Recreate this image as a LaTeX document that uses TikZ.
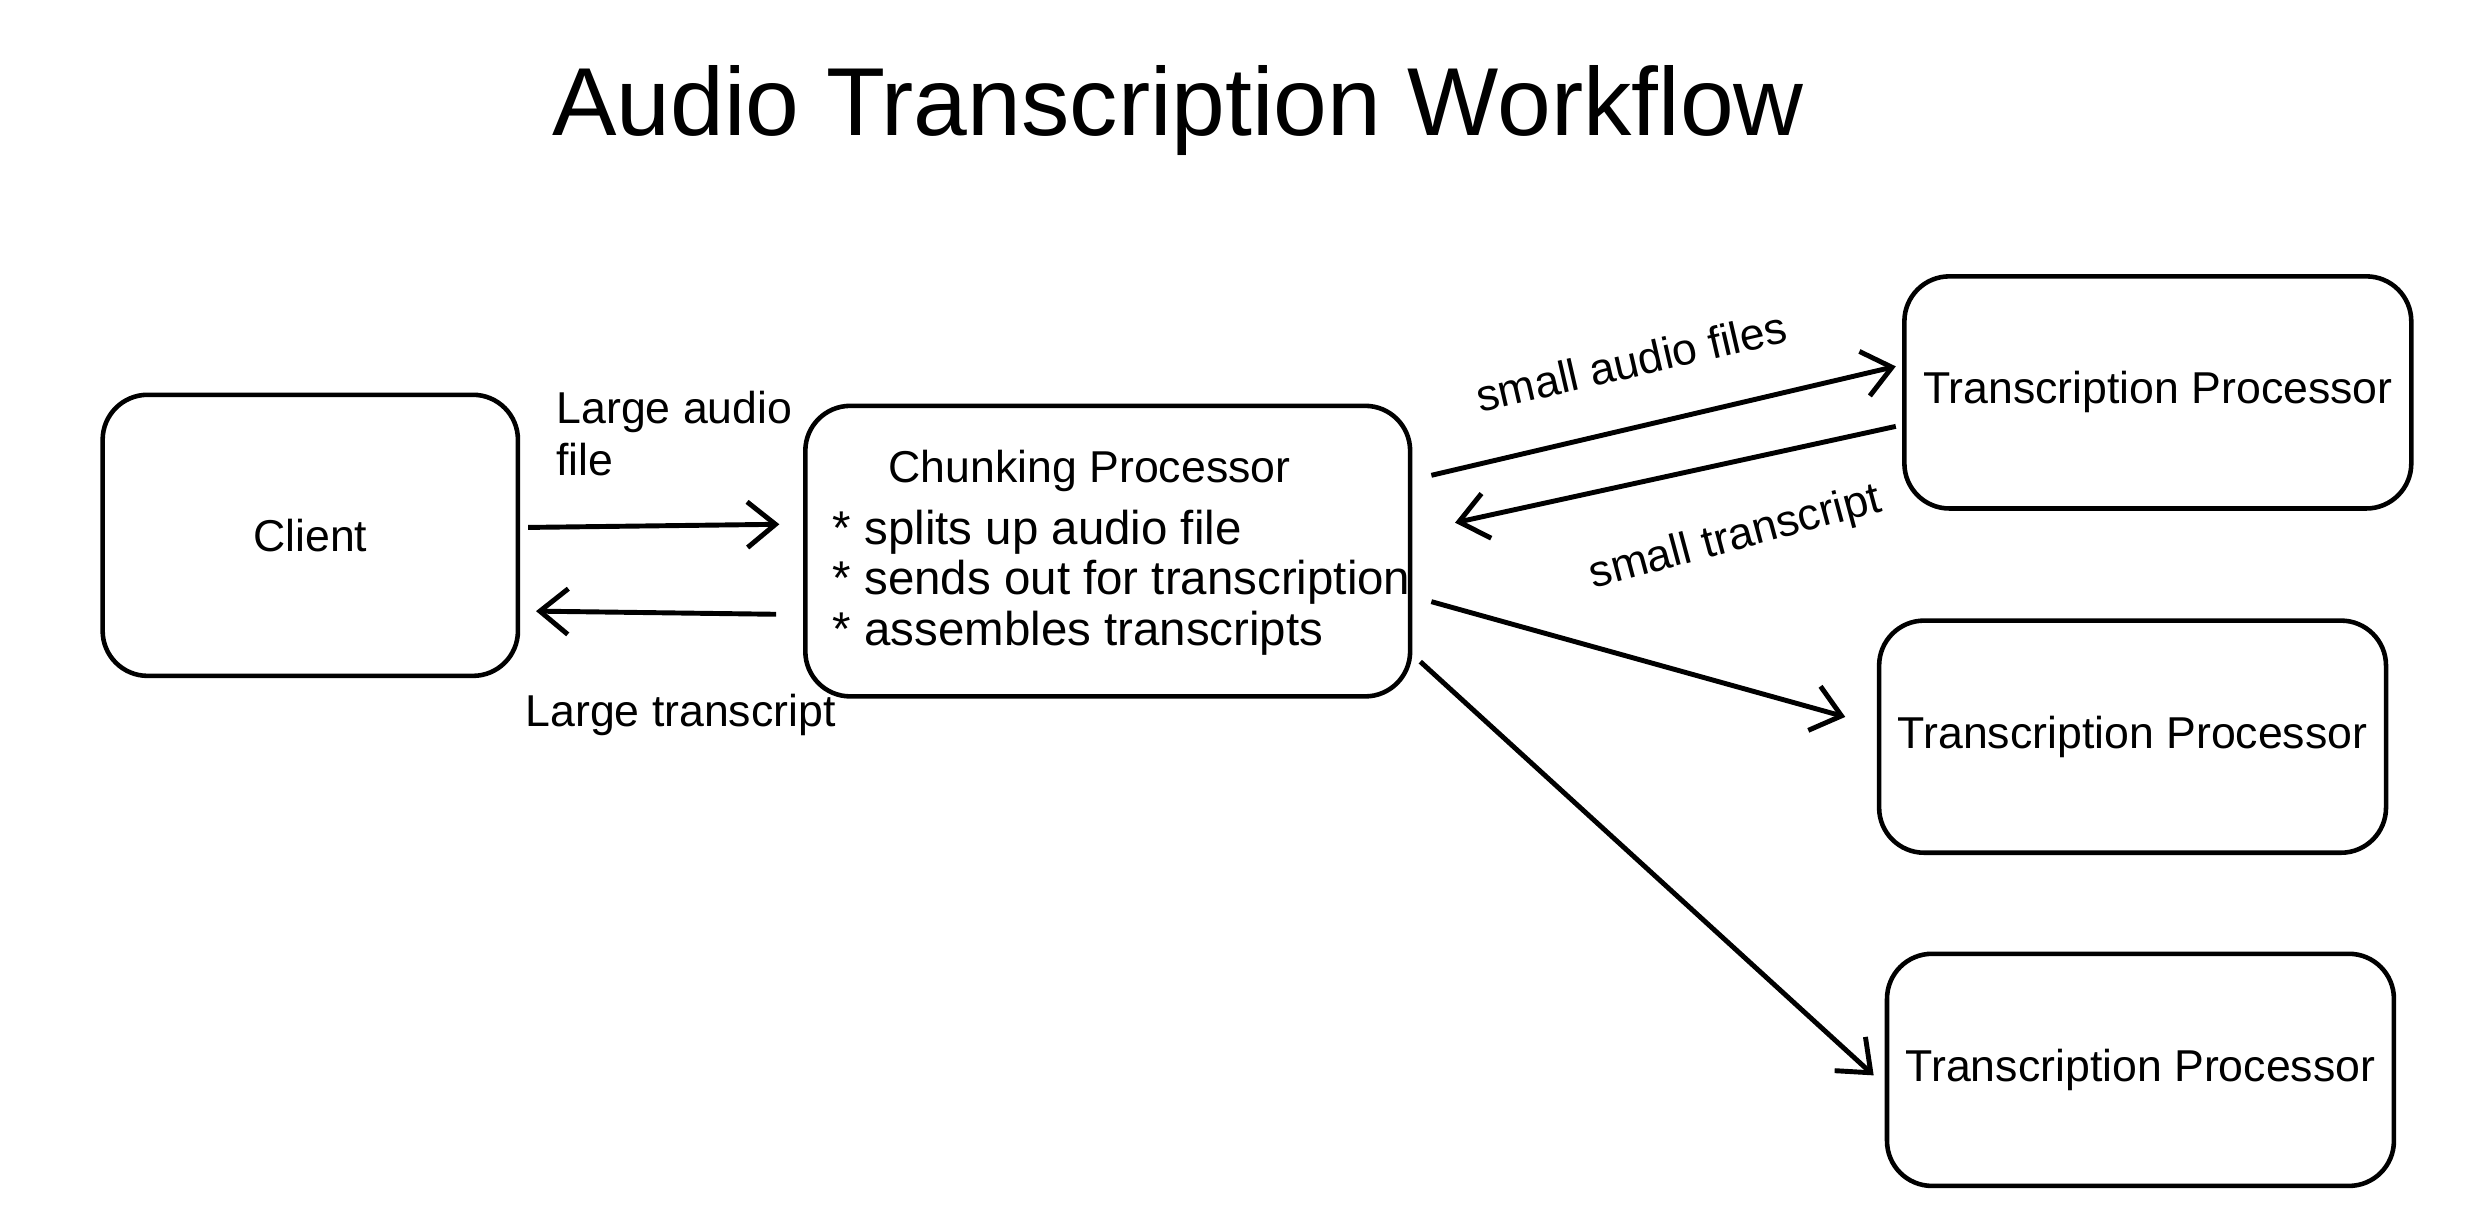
\documentclass[tikz,border=0pt]{standalone}
\usepackage{fontspec}
\setmainfont{Liberation Sans}
\usetikzlibrary{positioning, calc, arrows.meta}

\tikzset{
  procbox/.style={draw, line width=1.3pt, rounded corners=0.45cm, align=center, font=\fontsize{12.7}{15}\selectfont},
  flow/.style={line width=1.4pt, -{Straight Barb[length=8pt,width=13pt,line width=1.4pt]}},
  lbl/.style={font=\fontsize{12.7}{15}\selectfont, inner sep=0pt}
}

\begin{document}
\begin{tikzpicture}[x=0.01579cm, y=-0.01579cm]
\useasboundingbox (0,0) rectangle (1568,780);
\pgfmathsetmacro{\px}{0.01579}
\pgfmathsetmacro{\tpw}{321}
\pgfmathsetmacro{\tph}{147}

%% title
\node[font=\fontsize{27.5}{32}\selectfont] (title) at (746,70) {Audio Transcription Workflow};

%% boxes
\node[procbox, minimum width=263*\px*1cm, minimum height=178*\px*1cm] (client) at (196.5,339) {Client};
\node[procbox, minimum width=383*\px*1cm, minimum height=184*\px*1cm] (chunk) at (701.5,349) {};
\node[lbl] (chunktitle) at (690,298) {Chunking Processor};
\node[lbl, anchor=west, align=left, font=\fontsize{13.5}{14.3}\selectfont] (chunklist) at (527,369)
  {* splits up audio file\\* sends out for transcription\\* assembles transcripts};

\node[procbox, minimum width=\tpw*\px*1cm, minimum height=\tph*\px*1cm] (tpa) at (1366.5,248.5) {Transcription Processor};
\node[procbox, minimum width=\tpw*\px*1cm, minimum height=\tph*\px*1cm] (tpb) at (1350.5,466.5) {Transcription Processor};
\node[procbox, minimum width=\tpw*\px*1cm, minimum height=\tph*\px*1cm] (tpc) at (1355.5,677.5) {Transcription Processor};

%% client <-> chunking
\draw[flow] ($(client.east)+(5,-5)$) -- ($(chunk.west)+(-15,-17)$);
\draw[flow] ($(chunk.west)+(-17,40)$) -- ($(client.east)+(10,48)$);
\node[lbl, anchor=north west, align=left] (bigin) at (352,247) {Large audio\\file};
\node[lbl] (bigout) at (431,453) {Large transcript};

%% chunking <-> transcription
\draw[flow] ($(chunk.east)+(12,-48)$) -- ($(tpa.west)+(-4,-16.5)$);
\draw[flow] ($(tpa.west)+(-4,21.5)$) -- ($(chunk.east)+(27,-18)$);
\draw[flow] ($(chunk.east)+(12,32)$) -- ($(tpb.west)+(-20,-12.5)$);
\draw[flow] ($(chunk.east)+(5,70)$) -- ($(tpc.west)+(-7,3.5)$);
\node[lbl, rotate=13] (smallin) at (1033,229) {small audio files};
\node[lbl, rotate=15] (smallout) at (1099,341) {small transcript};
\end{tikzpicture}
\end{document}
